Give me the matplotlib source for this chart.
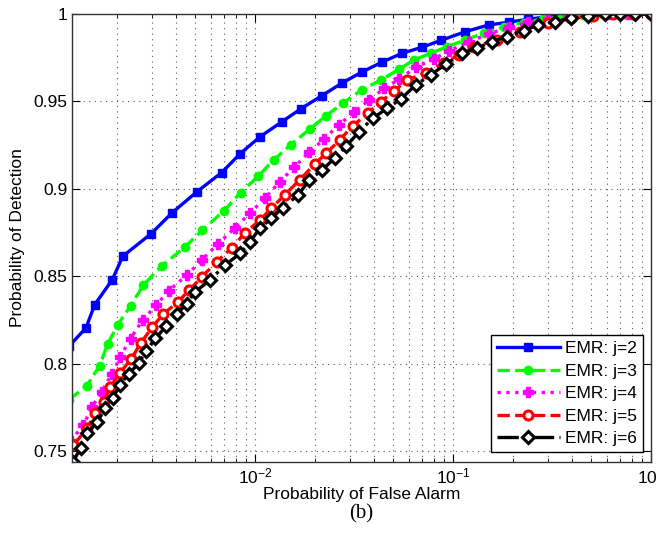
import numpy as np
import matplotlib
matplotlib.use('Agg')
import matplotlib.pyplot as plt

# Valores (Pfa, Pd) para cada curva
pfa_j2 = [0.00115, 0.00140, 0.00155, 0.00190, 0.00215, 0.00299, 0.00380, 0.00507, 0.00678,
          0.00843, 0.0106, 0.0136, 0.0171, 0.0217, 0.0274, 0.0345, 0.0440, 0.0555, 0.0699,
          0.0868, 0.1155, 0.151, 0.191, 0.240, 0.303, 0.382, 0.481, 0.606, 0.764, 1.0]
pd_j2 = [0.8100, 0.8205, 0.8338, 0.8480, 0.8615, 0.8744, 0.8862, 0.8982, 0.9093,
         0.9202, 0.9298, 0.9382, 0.9459, 0.9532, 0.9604, 0.9667, 0.9726, 0.9776, 0.9810,
         0.9849, 0.9899, 0.9937, 0.9953, 0.9970, 0.9985, 0.9991, 0.9995, 0.9997, 0.9999, 1.0]

pfa_j3 = [0.00115, 0.00141, 0.00164, 0.00180, 0.00203, 0.00235, 0.00273, 0.00338, 0.00442,
          0.00542, 0.00697, 0.00845, 0.0104, 0.0124, 0.0151, 0.0189, 0.0228, 0.0277, 0.0345,
          0.0432, 0.0534, 0.0635, 0.0770, 0.0934, 0.115, 0.143, 0.180, 0.227, 0.286, 0.360,
          0.454, 0.572, 0.721, 1.0]
pd_j3 = [0.7795, 0.7872, 0.7989, 0.8112, 0.8224, 0.8330, 0.8450, 0.8559, 0.8667,
         0.8764, 0.8875, 0.8978, 0.9073, 0.9165, 0.9251, 0.9342, 0.9417, 0.9489, 0.9565,
         0.9622, 0.9684, 0.9737, 0.9775, 0.9813, 0.9851, 0.9891, 0.9926, 0.9951, 0.9971, 0.9986,
         0.9993, 0.9997, 0.9999, 1.0]

pfa_j4 = [0.00117, 0.00136, 0.00150, 0.00168, 0.00189, 0.00209, 0.00235, 0.00271, 0.00317,
          0.00366, 0.00453, 0.00538, 0.00652, 0.00791, 0.00941, 0.0112, 0.0133, 0.0158, 0.0188,
          0.0224, 0.0264, 0.0317, 0.0377, 0.0449, 0.0534, 0.0650, 0.0800, 0.0952, 0.120, 0.151,
          0.191, 0.240, 0.303, 0.382, 0.481, 0.606, 0.764, 1.0]
pd_j4 = [0.7558, 0.7649, 0.7752, 0.7840, 0.7941, 0.8041, 0.8144, 0.8250, 0.8335,
         0.8417, 0.8507, 0.8593, 0.8687, 0.8776, 0.8860, 0.8946, 0.9039, 0.9125, 0.9211,
         0.9285, 0.9365, 0.9439, 0.9508, 0.9575, 0.9626, 0.9697, 0.9743, 0.9790, 0.9840, 0.9886,
         0.9923, 0.9954, 0.9974, 0.9989, 0.9994, 0.9998, 0.9999, 1.0]

pfa_j5 = [0.00121, 0.00142, 0.00156, 0.00172, 0.00186, 0.00208, 0.00237, 0.00264, 0.00303,
          0.00344, 0.00409, 0.00465, 0.00540, 0.00642, 0.00762, 0.00888, 0.0106, 0.0121, 0.0141,
          0.0168, 0.0200, 0.0229, 0.0267, 0.0311, 0.0370, 0.0432, 0.0504, 0.0588, 0.0727, 0.0899,
          0.107, 0.127, 0.166, 0.219, 0.303, 0.395, 0.510, 0.642, 0.810, 1.0]
pd_j5 = [0.7535, 0.7630, 0.7716, 0.7782, 0.7868, 0.7948, 0.8027, 0.8116, 0.8210,
         0.8284, 0.8354, 0.8421, 0.8497, 0.8584, 0.8662, 0.8747, 0.8822, 0.8889, 0.8965,
         0.9050, 0.9142, 0.9203, 0.9279, 0.9359, 0.9432, 0.9498, 0.9561, 0.9622, 0.9664, 0.9721,
         0.9765, 0.9811, 0.9851, 0.9899, 0.9947, 0.9975, 0.9991, 0.9997, 0.9999, 1.0]

pfa_j6 = [0.00120, 0.00132, 0.00142, 0.00160, 0.00175, 0.00192, 0.00207, 0.00230, 0.00258,
          0.00281, 0.00314, 0.00356, 0.00403, 0.00453, 0.00498, 0.00593, 0.00705, 0.00843, 0.00941,
          0.0106, 0.0121, 0.0138, 0.0165, 0.0188, 0.0218, 0.0252, 0.0289, 0.0336, 0.0392, 0.0466,
          0.0545, 0.0648, 0.0770, 0.0920, 0.111, 0.132, 0.157, 0.187, 0.227, 0.270, 0.327,
          0.396, 0.481, 0.584, 0.694, 0.826, 1.0]
pd_j6 = [0.7437, 0.7520, 0.7602, 0.7668, 0.7745, 0.7804, 0.7878, 0.7941, 0.8002,
         0.8072, 0.8145, 0.8215, 0.8284, 0.8344, 0.8412, 0.8478, 0.8564, 0.8631, 0.8696,
         0.8776, 0.8831, 0.8893, 0.8965, 0.9050, 0.9108, 0.9175, 0.9245, 0.9327, 0.9403, 0.9461,
         0.9514, 0.9594, 0.9651, 0.9714, 0.9775, 0.9804, 0.9842, 0.9870, 0.9904, 0.9937, 0.9956,
         0.9975, 0.9991, 0.9997, 0.9999, 0.99995, 1.0]

labels = ['EMR: j=2', 'EMR: j=3', 'EMR: j=4', 'EMR: j=5', 'EMR: j=6']
yticks = [0.75, 0.8, 0.85, 0.9, 0.95, 1.0]
yticklabels = ['0.75', '0.8', '0.85', '0.9', '0.95', '1']

plt.rcParams['font.family'] = ['Liberation Sans', 'DejaVu Sans']

fig = plt.figure(figsize=(6.57, 5.48), dpi=100)
ax = fig.add_axes([0.1096, 0.157, 0.8814, 0.8175])

ax.plot(pfa_j2, pd_j2, '-', color='#0000ff', lw=2.4, marker='s', ms=6,
        mfc='#0000ff', mec='#0000ff', label=labels[0])
ax.plot(pfa_j3, pd_j3, '--', color='#00ff00', lw=2.4, marker='o', ms=6,
        mfc='#00ff00', mec='#00ff00', label=labels[1])
ax.plot(pfa_j4, pd_j4, ':', color='#ff00ff', lw=2.4, marker='P', ms=7,
        mfc='#ff00ff', mec='#ff00ff', label=labels[2])
ax.plot(pfa_j5, pd_j5, '--', color='#ff0000', lw=2.4, marker='o', ms=6.5,
        mfc='white', mec='#ff0000', mew=2.2, label=labels[3])
ax.plot(pfa_j6, pd_j6, '-.', color='black', lw=2.4, marker='D', ms=6,
        mfc='white', mec='black', mew=2.2, label=labels[4])

ax.set_xscale('log')
ax.set_xlim(0.00119, 1.0)
ax.set_ylim(0.7438, 1.0)
ax.set_yticks(yticks)
ax.set_yticklabels(yticklabels)

ax.grid(True, which='major', axis='both', color='0.35', linestyle=(0, (1, 4)), lw=0.8)
ax.grid(True, which='minor', axis='x', color='0.35', linestyle=(0, (1, 4)), lw=0.8)
ax.tick_params(which='both', direction='in', top=True, right=True, labelsize=12.5)
ax.tick_params(which='major', length=6)
ax.tick_params(which='minor', length=3)
for s in ax.spines.values():
    s.set_linewidth(1.0)
    s.set_color('0.2')

ax.set_xlabel('Probability of False Alarm', fontsize=12.5, labelpad=0)
ax.set_ylabel('Probability of Detection', fontsize=12.5, labelpad=6)

leg = ax.legend(loc='lower right', bbox_to_anchor=(0.986, 0.022), borderaxespad=0,
                fontsize=12.5, handlelength=3.6, fancybox=False, framealpha=1,
                edgecolor='black', borderpad=0.35, labelspacing=0.42, handletextpad=0.3)
leg.get_frame().set_linewidth(1.0)

fig.text(0.55, 0.063, '(b)', fontsize=15, family='Liberation Serif', ha='center', va='center')

plt.savefig('out.png', dpi=100)
